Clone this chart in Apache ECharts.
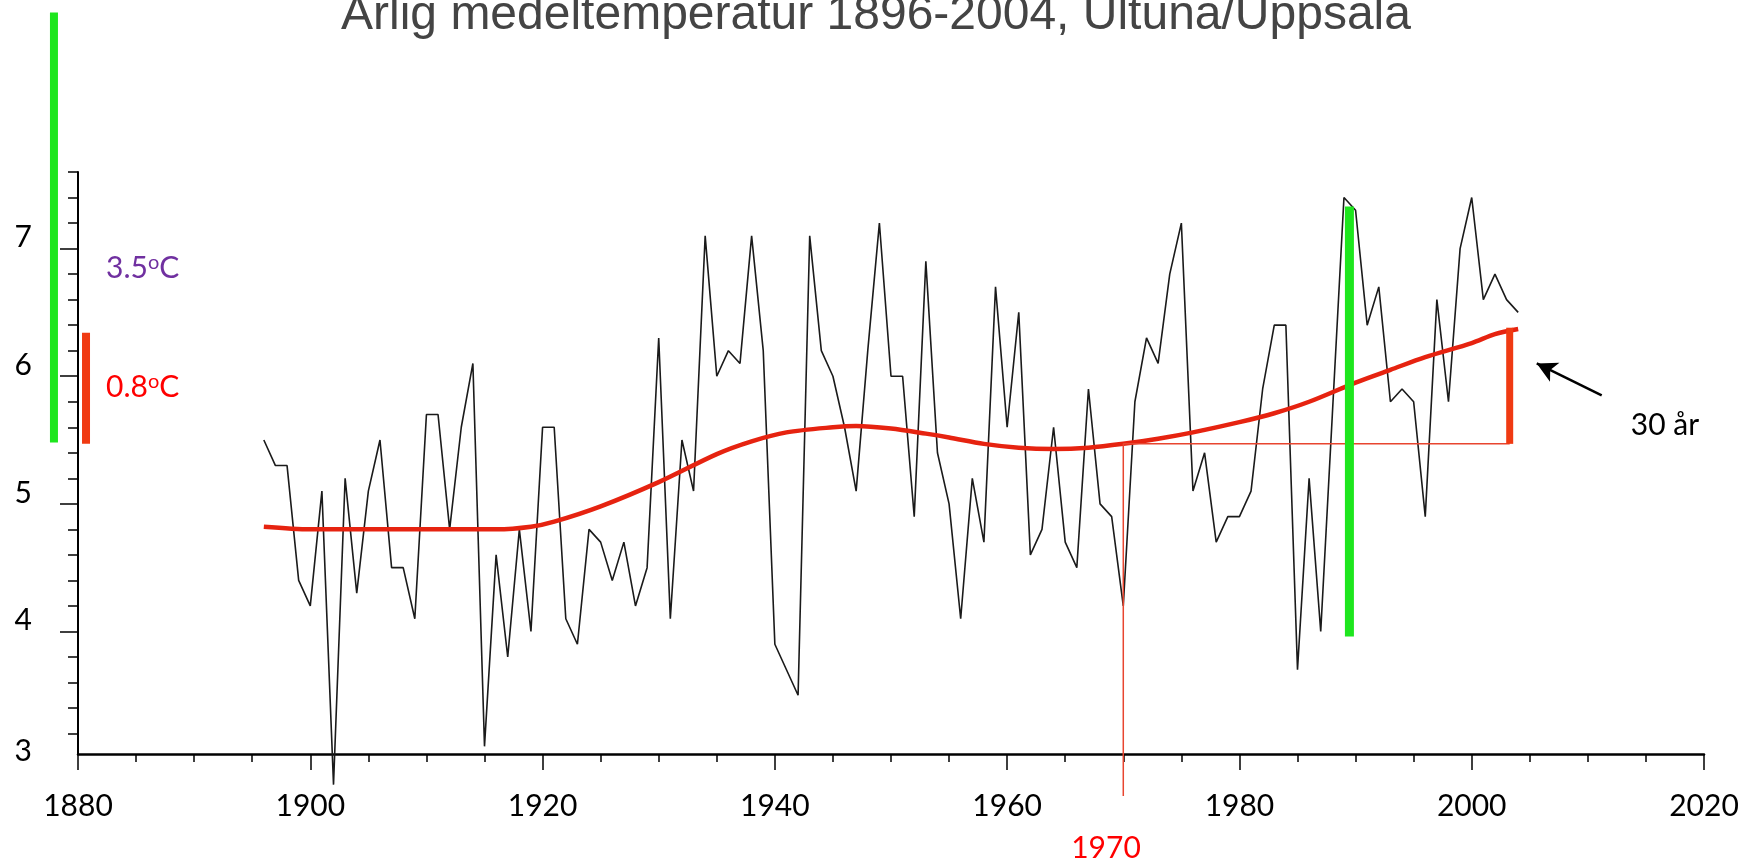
<!DOCTYPE html>
<html style="height: 100%">
<head>
<meta charset="utf-8">
</head>
<body style="height: 100%; margin: 0; background: #ffffff">
<div id="container" style="width: 1750px; height: 865px"></div>
<script type="text/javascript" src="https://cdn.jsdelivr.net/npm/echarts@6/dist/echarts.min.js"></script>
<script type="text/javascript">
// annual mean temperature, Ultuna/Uppsala, one value per year from 1896
var startYear = 1896;
var temps = [
  5.5, 5.3, 5.3, 4.4, 4.2, 5.1, 2.8, 5.2, 4.3,
  5.1, 5.5, 4.5, 4.5, 4.1, 5.7, 5.7, 4.8, 5.6, 6.1,
  3.1, 4.6, 3.8, 4.8, 4.0, 5.6, 5.6, 4.1, 3.9, 4.8,
  4.7, 4.4, 4.7, 4.2, 4.5, 6.3, 4.1, 5.5, 5.1, 7.1,
  6.0, 6.2, 6.1, 7.1, 6.2, 3.9, 3.7, 3.5, 7.1, 6.2,
  6.0, 5.6, 5.1, 6.2, 7.2, 6.0, 6.0, 4.9, 6.9, 5.4,
  5.0, 4.1, 5.2, 4.7, 6.7, 5.6, 6.5, 4.6, 4.8, 5.6,
  4.7, 4.5, 5.9, 5.0, 4.9, 4.2, 5.8, 6.3, 6.1, 6.8,
  7.2, 5.1, 5.4, 4.7, 4.9, 4.9, 5.1, 5.9, 6.4, 6.4,
  3.7, 5.2, 4.0, 5.7, 7.4, 7.3, 6.4, 6.7, 5.8, 5.9,
  5.8, 4.9, 6.6, 5.8, 7.0, 7.4, 6.6, 6.8, 6.6, 6.5
];

// smoothed curve (red), read at a few years
var trendYears = [1896, 1900, 1905, 1910, 1916, 1919, 1921, 1925, 1930, 1935, 1938,
  1941, 1945, 1947, 1950, 1953, 1955, 1958, 1961, 1964, 1967, 1970, 1973, 1976,
  1980, 1983, 1986, 1990, 1993, 1996, 2000, 2002, 2004];
var trendValues = [4.82, 4.80, 4.80, 4.80, 4.80, 4.82, 4.86, 4.98, 5.17, 5.39, 5.49,
  5.56, 5.60, 5.61, 5.59, 5.55, 5.52, 5.47, 5.44, 5.43, 5.44, 5.47, 5.51, 5.56,
  5.64, 5.71, 5.80, 5.95, 6.05, 6.15, 6.26, 6.33, 6.37];

// annotations (data units)
var refYear = 1970, refLevel = 5.47, refBottom = 2.71;
var barYear = 2003.27, barTop = 6.38;
var greenRight = [[1989.47, 3.96], [1989.47, 7.33]];
var arrowFrom = [2011.19, 5.85], arrowTo = [2005.6, 6.10];
// bars left of the y axis: [year, from, to]
var greenLeft = [1877.93, 5.48, 8.85];
var redLeft = [1880.69, 5.47, 6.34];

// axes
var xMin = 1880, xMax = 2020;
var yMin = 3.04, yMax = 7.6;
var yTickLabels = [3, 4, 5, 6, 7];
var yMajorTicks = [4, 5, 6, 7];
var yMinorTicks = [];
for (var k = 16; k <= 38; k++) yMinorTicks.push(k / 5);

var titleText = 'Årlig medeltemperatur 1896-2004, Ultuna/Uppsala';
var labelFont = 'Lato';

var dom = document.getElementById('container');
var myChart = echarts.init(dom, null, {renderer: 'canvas'});

var tempData = temps.map(function (t, i) { return [startYear + i, t]; });
var trendData = trendYears.map(function (y, i) { return [y, trendValues[i]]; });

function bar(name, data, color, width) {
    return {
        name: name,
        type: 'line',
        data: data,
        symbol: 'none',
        clip: false,
        silent: true,
        z: 6,
        lineStyle: {color: color, width: width, cap: 'butt'}
    };
}

var option = {
    animation: false,
    backgroundColor: '#ffffff',
    grid: {left: 78, right: 46, top: 172, bottom: 111},
    xAxis: [{
        type: 'value', min: xMin, max: xMax, interval: 20, position: 'bottom',
        axisLine: {show: true, lineStyle: {color: '#000', width: 2.5}},
        axisTick: {show: true, length: 16, lineStyle: {color: '#000', width: 1.5}},
        axisLabel: {fontSize: 30, fontFamily: labelFont, color: '#000', margin: 37,
                    formatter: function (v) { return String(v); }},
        splitLine: {show: false}
    }, {
        type: 'value', min: xMin, max: xMax, interval: 5, position: 'bottom',
        axisLine: {show: false},
        axisTick: {show: true, length: 8, lineStyle: {color: '#000', width: 1.5}},
        axisLabel: {show: false},
        splitLine: {show: false}
    }],
    yAxis: [{
        type: 'value', min: yMin, max: yMax, position: 'left',
        axisLine: {show: true, lineStyle: {color: '#000', width: 2}},
        axisTick: {show: true, length: 18, customValues: yMajorTicks, lineStyle: {color: '#000', width: 1.5}},
        axisLabel: {
            // the lowest label sits on the axis line
            customValues: yTickLabels.map(function (v) { return Math.max(v, yMin); }),
            formatter: function (v) {
                var s = String(Math.round(v));
                return v === yMin ? '{low|' + s + '}' : s;
            },
            rich: {low: {fontSize: 30, fontFamily: labelFont, color: '#000', lineHeight: 6}},
            fontSize: 30, fontFamily: labelFont, color: '#000', margin: 46,
            verticalAlign: 'bottom', lineHeight: 22
        },
        splitLine: {show: false}
    }, {
        type: 'value', min: yMin, max: yMax, position: 'left',
        axisLine: {show: false},
        axisTick: {show: true, length: 10, customValues: yMinorTicks, lineStyle: {color: '#000', width: 1.5}},
        axisLabel: {show: false},
        splitLine: {show: false}
    }],
    series: [{
        name: 'Årsmedel',
        type: 'line',
        data: tempData,
        symbol: 'none',
        clip: false,
        z: 3,
        lineStyle: {color: '#1a1a1a', width: 1.6}
    }, {
        name: 'Trend',
        type: 'line',
        data: trendData,
        symbol: 'none',
        smooth: 0.3,
        clip: false,
        z: 4,
        lineStyle: {color: '#e62310', width: 4.5}
    }, {
        name: 'Referens',
        type: 'line',
        data: [[refYear, refBottom], [refYear, refLevel], [barYear, refLevel]],
        symbol: 'none',
        clip: false,
        silent: true,
        z: 5,
        lineStyle: {color: '#e8452f', width: 1.5},
        markLine: {
            silent: true,
            symbol: ['none', 'arrow'],
            symbolSize: [16, 20],
            label: {show: false},
            lineStyle: {color: '#000', width: 2.5, type: 'solid'},
            data: [[{coord: arrowFrom}, {coord: arrowTo}]]
        }
    },
    bar('0.8', [[barYear, refLevel], [barYear, barTop]], '#f03a12', 7),
    bar('3.5', greenRight, '#1ee61e', 9),
    {
        name: 'Vänster',
        type: 'custom',
        clip: false,
        silent: true,
        z: 6,
        data: [
            {value: greenLeft, itemStyle: {color: '#1ee61e'}},
            {value: redLeft, itemStyle: {color: '#f03a12'}}
        ],
        renderItem: function (params, api) {
            var p0 = api.coord([api.value(0), api.value(1)]);
            var p1 = api.coord([api.value(0), api.value(2)]);
            return {
                type: 'line',
                shape: {x1: p0[0], y1: p0[1], x2: p1[0], y2: p1[1]},
                style: {stroke: api.visual('color'), lineWidth: 8, lineCap: 'butt'}
            };
        }
    }],
    graphic: [{
        type: 'text', x: 876, y: 16, silent: true,
        style: {text: titleText, fontSize: 48, fontFamily: 'Liberation Sans', fill: '#444444',
                textAlign: 'center', textVerticalAlign: 'middle'}
    }, {
        type: 'text', x: 106, y: 268, silent: true,
        style: {
            text: '{n|3.5}{s|o}{n|C}', textVerticalAlign: 'middle',
            rich: {
                n: {fontSize: 30, fontFamily: labelFont, fill: '#7030a0'},
                s: {fontSize: 20, fontFamily: labelFont, fill: '#7030a0', verticalAlign: 'top'}
            }
        }
    }, {
        type: 'text', x: 106, y: 387, silent: true,
        style: {
            text: '{n|0.8}{s|o}{n|C}', textVerticalAlign: 'middle',
            rich: {
                n: {fontSize: 30, fontFamily: labelFont, fill: '#ff0000'},
                s: {fontSize: 20, fontFamily: labelFont, fill: '#ff0000', verticalAlign: 'top'}
            }
        }
    }, {
        type: 'text', x: 1665, y: 425, silent: true,
        style: {text: '30 år', fontSize: 30, fontFamily: labelFont, fill: '#000',
                textAlign: 'center', textVerticalAlign: 'middle'}
    }, {
        type: 'text', x: 1106, y: 848, silent: true,
        style: {text: '1970', fontSize: 30, fontFamily: labelFont, fill: '#ff0000',
                textAlign: 'center', textVerticalAlign: 'middle'}
    }]
};

myChart.setOption(option);
</script>
</body>
</html>
